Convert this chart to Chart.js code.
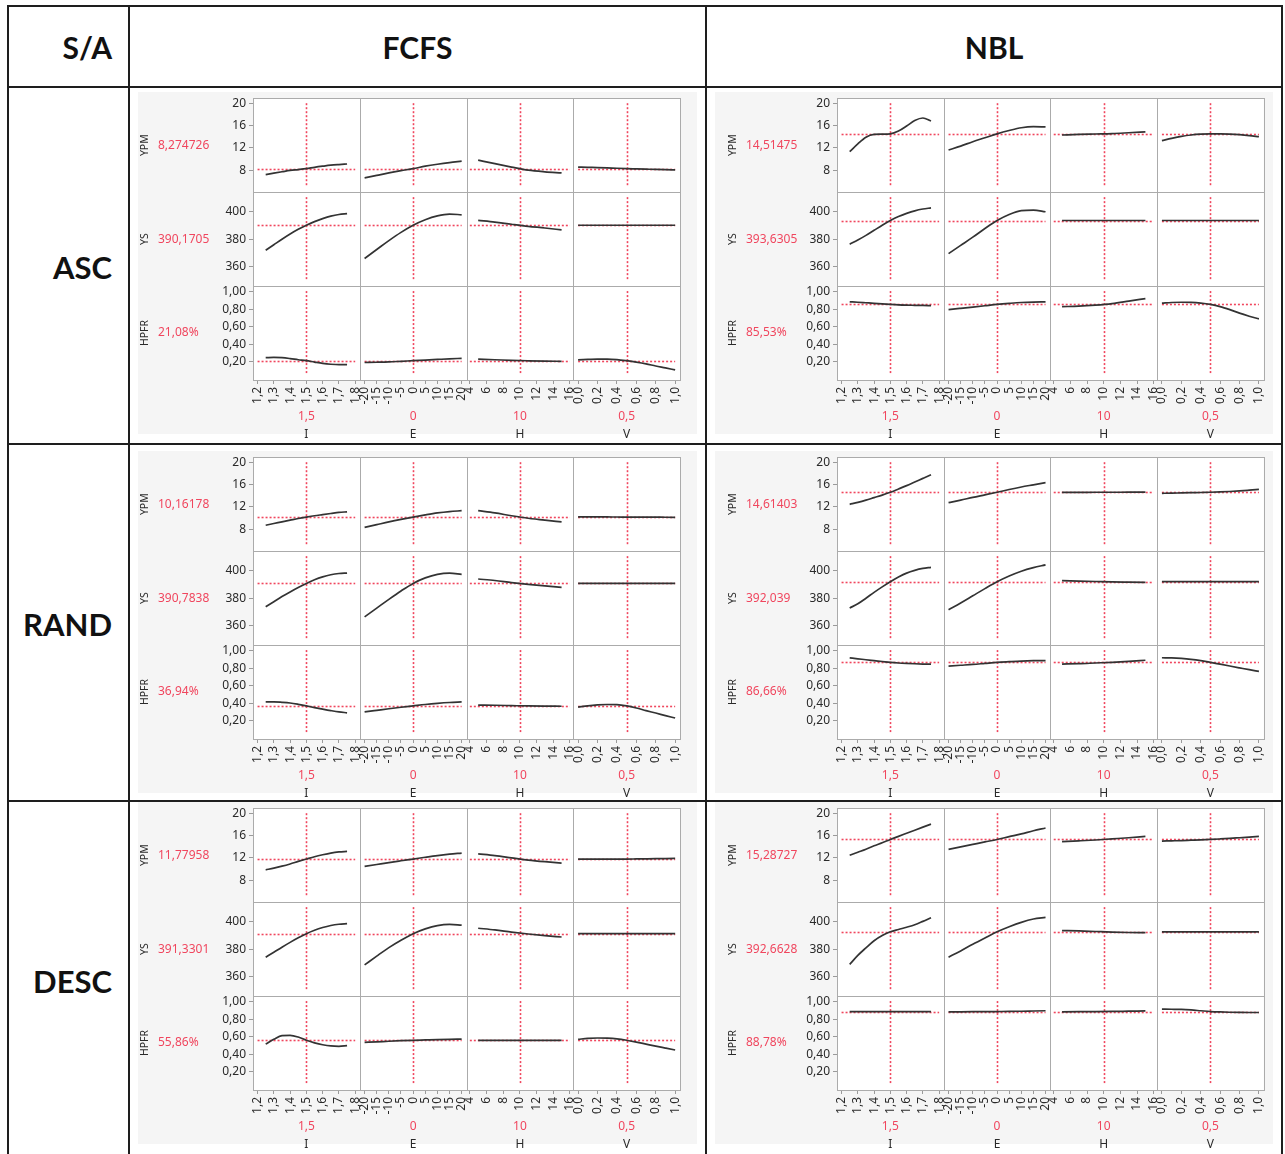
<!DOCTYPE html>
<html>
<head>
<meta charset="utf-8">
<script src="https://cdn.jsdelivr.net/npm/chart.js@4.4.1/dist/chart.umd.min.js"></script>
<style>
  body { margin: 0; width: 1285px; height: 1154px; overflow: hidden; position: relative; background: #fff; }
  .rule { position: absolute; background: #1e1e1e; }
  .head { position: absolute; font-family: Lato, sans-serif; font-weight: bold; font-size: 30px; color: #111; }
  .bg { position: absolute; background: #f5f5f5; }
  canvas { position: absolute; }
</style>
</head>
<body>
<div class="rule" style="left:7px;top:5px;width:2px;height:1149px"></div>
<div class="rule" style="left:128px;top:5px;width:2px;height:1149px"></div>
<div class="rule" style="left:705px;top:5px;width:2px;height:1149px"></div>
<div class="rule" style="left:1281px;top:5px;width:2px;height:1149px"></div>
<div class="rule" style="left:7px;top:5px;width:1276px;height:2px"></div>
<div class="rule" style="left:7px;top:86px;width:1276px;height:2px"></div>
<div class="rule" style="left:7px;top:443px;width:1276px;height:2px"></div>
<div class="rule" style="left:7px;top:800px;width:1276px;height:2px"></div>

<div class="head" style="left:0;top:27px;width:112px;text-align:right;line-height:40px">S/A</div>
<div class="head" style="left:130px;top:27px;width:575px;text-align:center;line-height:40px">FCFS</div>
<div class="head" style="left:707px;top:27px;width:574px;text-align:center;line-height:40px">NBL</div>
<div class="head" style="left:0;top:247px;width:112px;text-align:right;line-height:40px;font-size:31px">ASC</div>
<div class="head" style="left:0;top:604px;width:112px;text-align:right;line-height:40px;font-size:31px">RAND</div>
<div class="head" style="left:0;top:961px;width:112px;text-align:right;line-height:40px;font-size:31px">DESC</div>

<script>
// factors, responses and the current settings of the profiler
const factorNames = ['I', 'E', 'H', 'V'];
const responseNames = ['YPM', 'YS', 'HPFR'];
const factorSettings = [1.5, 0, 10, 0.5];

// factor levels where each profile trace was read
const iLevels = [1.25, 1.3, 1.35, 1.4, 1.45, 1.5, 1.55, 1.6, 1.65, 1.7, 1.75];
const eLevels = [-20, -15, -10, -5, 0, 5, 10, 15, 20];
const hLevels = [5, 7, 9, 11, 13, 15];
const vLevels = [0, 0.1, 0.2, 0.3, 0.4, 0.5, 0.6, 0.7, 0.8, 0.9, 1];

// tick labels
const iTicks = [1.2, 1.3, 1.4, 1.5, 1.6, 1.7, 1.8];
const eTicks = [-20, -15, -10, -5, 0, 5, 10, 15, 20];
const hTicks = [4, 6, 8, 10, 12, 14, 16];
const vTicks = [0, 0.2, 0.4, 0.6, 0.8, 1];
const ypmTicks = [8, 12, 16, 20];
const ysTicks = [360, 380, 400];
const hpfrTicks = [0.2, 0.4, 0.6, 0.8, 1];

// current predicted values [YPM, YS, HPFR]
const ascFcfsCurrent = [8.274726, 390.1705, 0.2108];
const ascNblCurrent = [14.51475, 393.6305, 0.8553];
const randFcfsCurrent = [10.16178, 390.7838, 0.3694];
const randNblCurrent = [14.61403, 392.039, 0.8666];
const descFcfsCurrent = [11.77958, 391.3301, 0.5586];
const descNblCurrent = [15.28727, 392.6628, 0.8878];

// profile traces: [vs I, vs E, vs H, vs V]
const ascFcfsYPM = [
  [7.2, 7.45, 7.7, 7.95, 8.1, 8.27, 8.5, 8.7, 8.88, 9.0, 9.1],
  [6.6, 7.05, 7.5, 7.9, 8.27, 8.7, 9.05, 9.35, 9.6],
  [9.8, 9.15, 8.55, 8.0, 7.7, 7.5],
  [8.55, 8.5, 8.46, 8.4, 8.33, 8.27, 8.22, 8.17, 8.12, 8.08, 8.05]
];
const ascFcfsYS = [
  [372, 376, 380, 383.8, 387.2, 390.2, 392.8, 395, 396.8, 398, 398.6],
  [366, 372.5, 379, 385, 390.2, 394.2, 397, 398.3, 397.8],
  [393.8, 392.5, 390.9, 389.4, 388.2, 386.8],
  [390.17, 390.17, 390.17, 390.17, 390.17, 390.17, 390.17, 390.17, 390.17, 390.17, 390.17]
];
const ascFcfsHPFR = [
  [0.245, 0.248, 0.245, 0.235, 0.222, 0.211, 0.195, 0.18, 0.17, 0.165, 0.165],
  [0.19, 0.193, 0.197, 0.204, 0.211, 0.218, 0.225, 0.232, 0.238],
  [0.228, 0.222, 0.215, 0.21, 0.206, 0.204],
  [0.22, 0.225, 0.23, 0.23, 0.224, 0.211, 0.195, 0.175, 0.15, 0.128, 0.105]
];

const ascNblYPM = [
  [11.3, 12.7, 13.9, 14.4, 14.45, 14.51, 15.0, 15.9, 16.9, 17.35, 16.8],
  [11.6, 12.3, 13.1, 13.8, 14.5, 15.1, 15.6, 15.8, 15.75],
  [14.3, 14.4, 14.48, 14.56, 14.7, 14.85],
  [13.3, 13.7, 14.05, 14.3, 14.45, 14.51, 14.5, 14.45, 14.35, 14.2, 14.0]
];
const ascNblYS = [
  [376.4, 379.5, 382.8, 386.5, 390.2, 393.6, 396.5, 398.8, 400.7, 402, 402.8],
  [369.5, 375.5, 381.5, 387.8, 393.6, 398, 400.8, 401.2, 400],
  [393.63, 393.63, 393.63, 393.63, 393.63, 393.63],
  [393.63, 393.63, 393.63, 393.63, 393.63, 393.63, 393.63, 393.63, 393.63, 393.63, 393.63]
];
const ascNblHPFR = [
  [0.885, 0.88, 0.874, 0.868, 0.861, 0.855, 0.85, 0.847, 0.845, 0.843, 0.842],
  [0.795, 0.81, 0.825, 0.84, 0.855, 0.867, 0.877, 0.882, 0.884],
  [0.83, 0.835, 0.847, 0.865, 0.893, 0.922],
  [0.87, 0.877, 0.88, 0.878, 0.87, 0.855, 0.83, 0.795, 0.755, 0.72, 0.69]
];

const randFcfsYPM = [
  [8.7, 9.0, 9.3, 9.6, 9.9, 10.16, 10.4, 10.6, 10.8, 11.0, 11.1],
  [8.3, 8.8, 9.3, 9.75, 10.16, 10.55, 10.9, 11.15, 11.3],
  [11.3, 10.9, 10.4, 9.95, 9.6, 9.3],
  [10.2, 10.2, 10.19, 10.18, 10.17, 10.16, 10.15, 10.15, 10.14, 10.13, 10.12]
];
const randFcfsYS = [
  [373.8, 377.5, 381.2, 384.6, 387.8, 390.8, 393.5, 395.6, 397.1, 398, 398.3],
  [366.4, 372.8, 379.2, 385.3, 390.8, 394.8, 397.4, 398.3, 397.4],
  [394, 392.9, 391.4, 390.1, 389, 387.9],
  [390.78, 390.78, 390.78, 390.78, 390.78, 390.78, 390.78, 390.78, 390.78, 390.78, 390.78]
];
const randFcfsHPFR = [
  [0.414, 0.415, 0.41, 0.402, 0.387, 0.369, 0.35, 0.332, 0.315, 0.3, 0.29],
  [0.3, 0.318, 0.336, 0.353, 0.369, 0.385, 0.398, 0.408, 0.414],
  [0.378, 0.376, 0.372, 0.368, 0.366, 0.365],
  [0.355, 0.37, 0.38, 0.385, 0.383, 0.369, 0.345, 0.315, 0.287, 0.258, 0.23]
];

const randNblYPM = [
  [12.45, 12.8, 13.2, 13.65, 14.1, 14.61, 15.2, 15.8, 16.45, 17.1, 17.75],
  [12.75, 13.2, 13.7, 14.15, 14.61, 15.1, 15.55, 15.95, 16.35],
  [14.6, 14.6, 14.61, 14.61, 14.62, 14.62],
  [14.42, 14.45, 14.49, 14.53, 14.57, 14.61, 14.67, 14.75, 14.85, 14.98, 15.12]
];
const randNblYS = [
  [372.9, 376, 380, 384.3, 388.3, 392, 395.4, 398.3, 400.3, 401.7, 402.5],
  [371.7, 376.6, 381.8, 387, 392, 396.2, 399.7, 402.3, 404.3],
  [392.8, 392.5, 392.2, 391.9, 391.7, 391.5],
  [392.04, 392.04, 392.04, 392.04, 392.04, 392.04, 392.04, 392.04, 392.04, 392.04, 392.04]
];
const randNblHPFR = [
  [0.918, 0.908, 0.897, 0.887, 0.877, 0.867, 0.86, 0.855, 0.851, 0.848, 0.846],
  [0.825, 0.834, 0.843, 0.855, 0.867, 0.875, 0.882, 0.886, 0.887],
  [0.848, 0.852, 0.86, 0.868, 0.878, 0.891],
  [0.92, 0.918, 0.912, 0.902, 0.887, 0.867, 0.846, 0.825, 0.804, 0.783, 0.763]
];

const descFcfsYPM = [
  [9.85, 10.15, 10.5, 10.9, 11.35, 11.78, 12.2, 12.55, 12.85, 13.05, 13.15],
  [10.45, 10.8, 11.15, 11.47, 11.78, 12.1, 12.4, 12.65, 12.85],
  [12.7, 12.4, 12.0, 11.6, 11.3, 11.05],
  [11.75, 11.76, 11.77, 11.77, 11.78, 11.78, 11.8, 11.82, 11.84, 11.87, 11.9]
];
const descFcfsYS = [
  [374.2, 377.8, 381.5, 385, 388.3, 391.3, 393.8, 395.8, 397.3, 398.2, 398.6],
  [368.6, 375, 381.2, 386.6, 391.3, 394.8, 397.2, 398.1, 397.6],
  [395.3, 394.1, 392.5, 391.1, 389.9, 388.9],
  [391.33, 391.33, 391.33, 391.33, 391.33, 391.33, 391.33, 391.33, 391.33, 391.33, 391.33]
];
const descFcfsHPFR = [
  [0.515, 0.57, 0.612, 0.615, 0.596, 0.559, 0.53, 0.508, 0.494, 0.49, 0.498],
  [0.535, 0.541, 0.548, 0.554, 0.559, 0.563, 0.567, 0.57, 0.572],
  [0.559, 0.559, 0.559, 0.559, 0.559, 0.559],
  [0.57, 0.58, 0.585, 0.583, 0.575, 0.559, 0.538, 0.515, 0.492, 0.47, 0.448]
];

const descNblYPM = [
  [12.45, 13.0, 13.55, 14.15, 14.7, 15.29, 15.85, 16.4, 16.95, 17.5, 18.05],
  [13.5, 13.95, 14.4, 14.85, 15.29, 15.8, 16.3, 16.85, 17.35],
  [14.92, 15.05, 15.2, 15.4, 15.6, 15.85],
  [15.0, 15.05, 15.1, 15.16, 15.22, 15.29, 15.38, 15.48, 15.6, 15.72, 15.85]
];
const descNblYS = [
  [369, 375.5, 381, 386.2, 390, 392.7, 394.4, 396, 397.8, 400.3, 403],
  [374.2, 378.8, 383.6, 388.2, 392.7, 396.4, 399.6, 402, 403.2],
  [393.6, 393.3, 392.9, 392.5, 392.2, 392.1],
  [392.66, 392.66, 392.66, 392.66, 392.66, 392.66, 392.66, 392.66, 392.66, 392.66, 392.66]
];
const descNblHPFR = [
  [0.888, 0.888, 0.888, 0.888, 0.888, 0.888, 0.888, 0.888, 0.888, 0.888, 0.888],
  [0.884, 0.885, 0.886, 0.887, 0.888, 0.889, 0.891, 0.894, 0.897],
  [0.885, 0.886, 0.887, 0.889, 0.892, 0.895],
  [0.915, 0.914, 0.912, 0.906, 0.897, 0.888, 0.883, 0.88, 0.878, 0.877, 0.877]
];

const levels = [iLevels, eLevels, hLevels, vLevels];
const xTicks = [iTicks, eTicks, hTicks, vTicks];
const xRanges = [[1.172, 1.828], [-22, 22], [3.6, 16.4], [-0.05, 1.05]];
const yTicks = [ypmTicks, ysTicks, hpfrTicks];
const yRanges = [[4.05, 20.9], [345.9, 414.3], [-0.01, 1.065]];

const comma = v => String(v).replace('.', ',');
const xFmt = [v => v.toFixed(1).replace('.', ','), v => String(v), v => String(v), v => v.toFixed(1).replace('.', ',')];
const yFmt = [v => String(v), v => String(v), v => v.toFixed(2).replace('.', ',')];
const curFmt = [comma, comma, v => (v * 100).toFixed(2).replace('.', ',') + '%'];

const RED = '#f0465e';
const FONT = '"Noto Sans", sans-serif';
Chart.defaults.font.family = FONT;
Chart.defaults.color = '#2a2a2a';

// column / row geometry of the table
const colGeo = [
  { left: 130, width: 575, axisW: 118, padding: { left: 5, right: 25, top: 10, bottom: 0 } },
  { left: 707, width: 574, axisW: 114, padding: { left: 16, right: 17, top: 10, bottom: 0 } }
];
const rowTop = [98, 457, 808];

const cells = [
  { row: 0, col: 0, cur: ascFcfsCurrent, series: [ascFcfsYPM, ascFcfsYS, ascFcfsHPFR] },
  { row: 0, col: 1, cur: ascNblCurrent, series: [ascNblYPM, ascNblYS, ascNblHPFR] },
  { row: 1, col: 0, cur: randFcfsCurrent, series: [randFcfsYPM, randFcfsYS, randFcfsHPFR] },
  { row: 1, col: 1, cur: randNblCurrent, series: [randNblYPM, randNblYS, randNblHPFR] },
  { row: 2, col: 0, cur: descFcfsCurrent, series: [descFcfsYPM, descFcfsYS, descFcfsHPFR] },
  { row: 2, col: 1, cur: descNblCurrent, series: [descNblYPM, descNblYS, descNblHPFR] }
];

function makeProfiler(cell) {
  return {
    id: 'profiler',
    beforeDraw(chart) {
      const { ctx, chartArea: a } = chart;
      ctx.save();
      ctx.fillStyle = '#fff';
      ctx.fillRect(a.left, a.top, a.right - a.left, a.bottom - a.top);
      ctx.restore();
    },
    beforeDatasetsDraw(chart) {
      const ctx = chart.ctx;
      ctx.save();
      ctx.strokeStyle = RED;
      ctx.lineWidth = 1.6;
      ctx.setLineDash([2, 2]);
      responseNames.forEach((_, r) => {
        const ys = chart.scales['y' + r];
        const yv = Math.round(ys.getPixelForValue(cell.cur[r])) + 0.5;
        factorNames.forEach((_, f) => {
          const xs = chart.scales['x' + f];
          const t = xTicks[f];
          ctx.beginPath();
          ctx.moveTo(xs.getPixelForValue(t[0]), yv);
          ctx.lineTo(xs.getPixelForValue(t[t.length - 1]), yv);
          ctx.stroke();
          const xv = Math.round(xs.getPixelForValue(factorSettings[f])) + 0.5;
          ctx.beginPath();
          ctx.moveTo(xv, ys.top + 5);
          ctx.lineTo(xv, ys.bottom - 5);
          ctx.stroke();
        });
      });
      ctx.restore();
    },
    afterDraw(chart) {
      const ctx = chart.ctx;
      const a = chart.chartArea;
      ctx.save();
      ctx.strokeStyle = '#ababab';
      ctx.lineWidth = 1;
      responseNames.forEach((_, r) => {
        const ys = chart.scales['y' + r];
        factorNames.forEach((_, f) => {
          const xs = chart.scales['x' + f];
          ctx.strokeRect(Math.round(xs.left) + 0.5, Math.round(ys.top) + 0.5,
            Math.round(xs.right) - Math.round(xs.left), Math.round(ys.bottom) - Math.round(ys.top));
        });
      });
      ctx.fillStyle = RED;
      ctx.font = '12px ' + FONT;
      ctx.textBaseline = 'middle';
      ctx.textAlign = 'left';
      responseNames.forEach((_, r) => {
        const ys = chart.scales['y' + r];
        ctx.fillText(curFmt[r](cell.cur[r]), ys.left + 23, (ys.top + ys.bottom) / 2);
      });
      ctx.textAlign = 'center';
      factorNames.forEach((_, f) => {
        const xs = chart.scales['x' + f];
        ctx.fillText(comma(factorSettings[f]), (xs.left + xs.right) / 2, a.bottom + 37);
      });
      ctx.restore();
    }
  };
}

function buildChart(cell) {
  const geo = colGeo[cell.col];
  const top = rowTop[cell.row] - 10;

  const bg = document.createElement('div');
  bg.className = 'bg';
  bg.style.left = (geo.left + 8) + 'px';
  bg.style.top = (rowTop[cell.row] - 6) + 'px';
  bg.style.width = (geo.width - 16) + 'px';
  bg.style.height = (282 + 60) + 'px';
  document.body.appendChild(bg);

  const canvas = document.createElement('canvas');
  canvas.width = geo.width;
  canvas.height = 356;
  canvas.style.left = geo.left + 'px';
  canvas.style.top = top + 'px';
  document.body.appendChild(canvas);

  const scales = {};
  responseNames.forEach((name, r) => {
    scales['y' + r] = {
      type: 'linear', position: 'left', stack: 'resp', stackWeight: 1, weight: 3 - r,
      min: yRanges[r][0], max: yRanges[r][1],
      grid: { drawOnChartArea: false, tickLength: 4, color: '#9a9a9a' },
      border: { display: false },
      ticks: { font: { size: 12 }, padding: 3, autoSkip: false, callback: v => yFmt[r](v) },
      afterBuildTicks: s => { s.ticks = yTicks[r].map(v => ({ value: v })); },
      afterFit: s => { s.width = geo.axisW; },
      title: { display: true, text: name, font: { size: 10.5 }, padding: { top: 4, bottom: 0 } }
    };
  });
  factorNames.forEach((name, f) => {
    scales['x' + f] = {
      type: 'linear', position: 'bottom', stack: 'fac', stackWeight: 1,
      min: xRanges[f][0], max: xRanges[f][1],
      grid: { drawOnChartArea: false, tickLength: 4, color: '#9a9a9a' },
      border: { display: false },
      ticks: { font: { size: 12 }, padding: 3, autoSkip: false, minRotation: 90, maxRotation: 90,
        callback: v => xFmt[f](v) },
      afterBuildTicks: s => { s.ticks = xTicks[f].map(v => ({ value: v })); },
      afterFit: s => { s.height = 64; },
      title: { display: true, text: name, font: { size: 12 }, padding: { top: 0, bottom: 2 } }
    };
  });

  const datasets = [];
  responseNames.forEach((_, r) => {
    factorNames.forEach((_, f) => {
      datasets.push({
        data: levels[f].map((x, i) => ({ x, y: cell.series[r][f][i] })),
        xAxisID: 'x' + f, yAxisID: 'y' + r,
        borderColor: '#333333', borderWidth: 1.7,
        pointRadius: 0, cubicInterpolationMode: 'monotone', fill: false
      });
    });
  });

  new Chart(canvas, {
    type: 'line',
    data: { datasets },
    options: {
      responsive: false,
      animation: false,
      layout: { padding: geo.padding },
      plugins: { legend: { display: false }, tooltip: { enabled: false } },
      scales
    },
    plugins: [makeProfiler(cell)]
  });
}

cells.forEach(buildChart);
</script>
</body>
</html>
